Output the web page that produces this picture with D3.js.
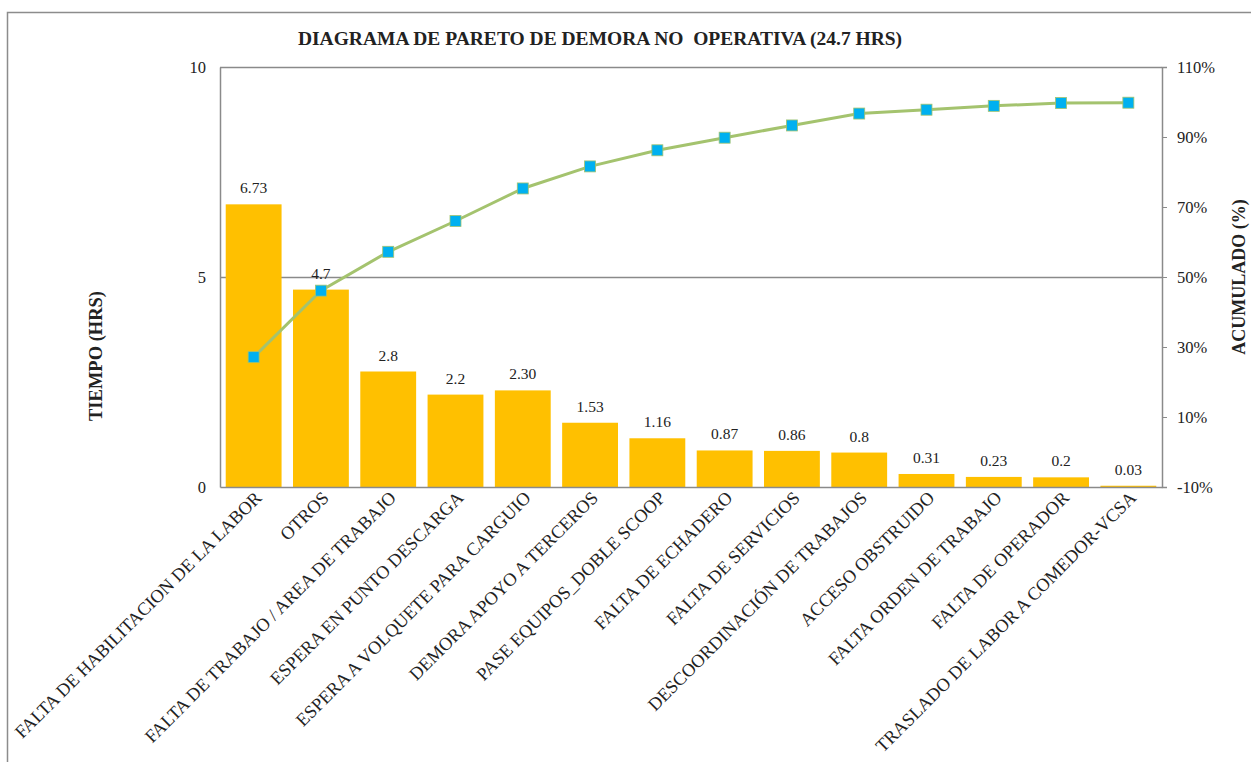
<!DOCTYPE html>
<html>
<head>
<meta charset="utf-8">
<script src="https://cdn.jsdelivr.net/npm/d3@7"></script>
<style>
  html, body { margin: 0; padding: 0; background: #fff; }
  svg { display: block; }
  text { font-family: "Liberation Serif", "Times New Roman", serif; fill: #222; }
</style>
</head>
<body>
<svg id="chart" width="1251" height="762"></svg>
<script>
const categories = [
  "FALTA DE HABILITACION DE LA LABOR",
  "OTROS",
  "FALTA DE TRABAJO / AREA DE TRABAJO",
  "ESPERA EN PUNTO DESCARGA",
  "ESPERA A VOLQUETE PARA CARGUIO",
  "DEMORA APOYO A TERCEROS",
  "PASE EQUIPOS_DOBLE SCOOP",
  "FALTA DE ECHADERO",
  "FALTA DE SERVICIOS",
  "DESCOORDINACIÓN DE TRABAJOS",
  "ACCESO OBSTRUIDO",
  "FALTA ORDEN DE TRABAJO",
  "FALTA DE OPERADOR",
  "TRASLADO DE LABOR A COMEDOR-VCSA"
];
const hours = [6.73, 4.7, 2.75, 2.2, 2.3, 1.53, 1.16, 0.87, 0.86, 0.82, 0.31, 0.24, 0.23, 0.03];
const hourLabels = ["6.73", "4.7", "2.8", "2.2", "2.30", "1.53", "1.16", "0.87", "0.86", "0.8", "0.31", "0.23", "0.2", "0.03"];
const cumulativePct = [27.1, 46.1, 57.2, 66.0, 75.3, 81.6, 86.2, 89.8, 93.3, 96.7, 97.8, 98.9, 99.7, 99.8];
const leftTicks = [0, 5, 10];
const rightTicks = [-10, 10, 30, 50, 70, 90, 110];
const titleText = "DIAGRAMA DE PARETO DE DEMORA NO  OPERATIVA (24.7 HRS)";

const svg = d3.select("#chart");
const plot = { left: 220, right: 1162, top: 67, bottom: 487 };

// outer chart border
svg.append("rect").attr("x", 7.5).attr("y", 12.5).attr("width", 1260).attr("height", 780)
  .attr("fill", "none").attr("stroke", "#8c8c8c").attr("stroke-width", 1.5);

const x = d3.scaleBand().domain(categories).range([plot.left, plot.right]).paddingInner(0.17).paddingOuter(0.085);
const y = d3.scaleLinear().domain([0, 10]).range([plot.bottom, plot.top]);
const y2 = d3.scaleLinear().domain([-10, 110]).range([plot.bottom, plot.top]);

// gridlines (major at 5 and 10)
svg.append("g").selectAll("line").data(leftTicks.filter(d => d > 0)).join("line")
  .attr("x1", plot.left).attr("x2", plot.right)
  .attr("y1", d => Math.round(y(d)) + 0.5).attr("y2", d => Math.round(y(d)) + 0.5)
  .attr("stroke", "#8a8a8a").attr("stroke-width", 1.3);

// bars
svg.append("g").selectAll("rect").data(hours).join("rect")
  .attr("x", (d, i) => x(categories[i]))
  .attr("width", x.bandwidth())
  .attr("y", d => y(d))
  .attr("height", d => Math.max(1.5, y(0) - y(d)))
  .attr("fill", "#FFC000");

// bar value labels
svg.append("g").selectAll("text").data(hours).join("text")
  .attr("x", (d, i) => x(categories[i]) + x.bandwidth() / 2)
  .attr("y", d => y(d) - 11)
  .attr("text-anchor", "middle")
  .attr("font-size", 15.5)
  .text((d, i) => hourLabels[i]);

// left axis
const leftAxis = d3.axisLeft(y).tickValues(leftTicks).tickSize(0).tickPadding(14).tickFormat(d3.format("d"));
const gL = svg.append("g").attr("transform", `translate(${plot.left},0)`).call(leftAxis);
gL.select(".domain").attr("stroke", "#8a8a8a").attr("stroke-width", 1.5);
gL.selectAll("text").attr("font-size", 16.5).attr("font-family", "Liberation Serif, serif").attr("fill", "#222");

// right axis
const rightAxis = d3.axisRight(y2).tickValues(rightTicks).tickSize(5).tickPadding(10).tickFormat(d => d + "%");
const gR = svg.append("g").attr("transform", `translate(${plot.right},0)`).call(rightAxis);
gR.select(".domain").attr("stroke", "#8a8a8a").attr("stroke-width", 1.5);
gR.selectAll(".tick line").attr("stroke", "#8a8a8a");
gR.selectAll("text").attr("font-size", 16.5).attr("font-family", "Liberation Serif, serif").attr("fill", "#222");

// bottom axis
const bottomAxis = d3.axisBottom(x).tickSize(0).tickPadding(0);
const gB = svg.append("g").attr("transform", `translate(0,${plot.bottom})`).call(bottomAxis);
gB.select(".domain").attr("stroke", "#8a8a8a").attr("stroke-width", 1.5);
gB.selectAll("text")
  .attr("font-size", 18.3).attr("font-family", "Liberation Serif, serif").attr("fill", "#222")
  .attr("text-anchor", "end")
  .attr("dy", null)
  .attr("transform", "translate(9,12) rotate(-45)");

// cumulative line
const cx = (d, i) => x(categories[i]) + x.bandwidth() / 2;
const line = d3.line().x((d, i) => cx(d, i)).y(d => y2(d));
svg.append("path").datum(cumulativePct).attr("d", line)
  .attr("fill", "none").attr("stroke", "#A4C36E").attr("stroke-width", 3);
svg.append("g").selectAll("rect").data(cumulativePct).join("rect")
  .attr("x", (d, i) => cx(d, i) - 5.5).attr("y", d => y2(d) - 5.5)
  .attr("width", 11).attr("height", 11)
  .attr("fill", "#00B0F0").attr("stroke", "#A4C36E").attr("stroke-width", 0.8);

// title
svg.append("text").attr("x", 600).attr("y", 45).attr("text-anchor", "middle")
  .style("white-space", "pre")
  .attr("font-size", 19.5).attr("font-weight", "bold").text(titleText);

// axis titles
svg.append("text").attr("transform", "translate(102,356) rotate(-90)").attr("text-anchor", "middle")
  .attr("font-size", 18.5).attr("font-weight", "bold").text("TIEMPO (HRS)");
svg.append("text").attr("transform", "translate(1245,277) rotate(-90)").attr("text-anchor", "middle")
  .attr("font-size", 18).attr("font-weight", "bold").text("ACUMULADO (%)");
</script>
</body>
</html>
